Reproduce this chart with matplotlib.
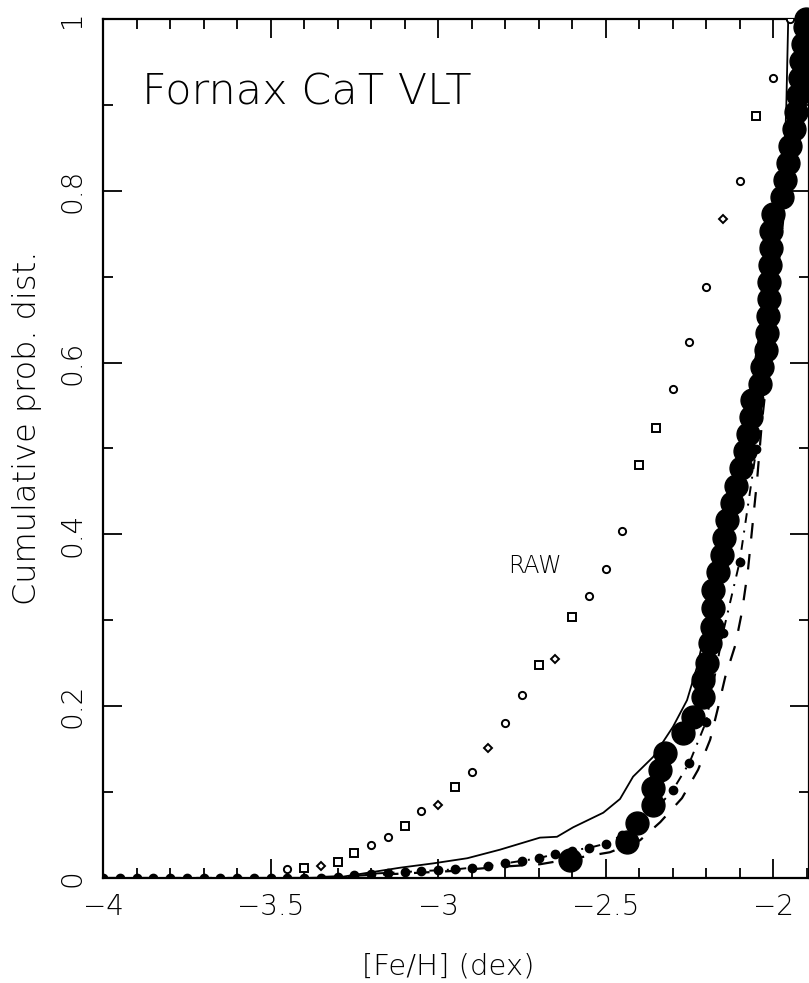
import matplotlib
matplotlib.use("Agg")
import matplotlib.pyplot as plt
from matplotlib.ticker import MultipleLocator, FixedLocator, FixedFormatter

plt.rcParams["font.family"] = ["DejaVu Sans"]
TEXT_WEIGHT = 200

# ---- data -------------------------------------------------------------
# Raw (uncorrected) cumulative distribution, sampled every 0.05 dex
raw_feh = [-3.45, -3.40, -3.35, -3.30, -3.25, -3.20, -3.15, -3.10, -3.05, -3.00,
           -2.95, -2.90, -2.85, -2.80, -2.75, -2.70, -2.65, -2.60, -2.55, -2.50,
           -2.45, -2.40, -2.35, -2.30, -2.25, -2.20, -2.15, -2.10, -2.05, -2.00,
           -1.95]
raw_cdf = [0.010, 0.012, 0.014, 0.019, 0.029, 0.038, 0.048, 0.061, 0.078, 0.085,
           0.106, 0.123, 0.151, 0.180, 0.213, 0.248, 0.255, 0.304, 0.328, 0.360,
           0.404, 0.481, 0.524, 0.569, 0.624, 0.688, 0.767, 0.811, 0.887, 0.931,
           1.000]

# Corrected stellar cumulative distribution (large filled points)
star_feh = [-2.606, -2.436, -2.406, -2.358, -2.358, -2.337, -2.322, -2.269, -2.239, -2.209,
            -2.209, -2.197, -2.188, -2.182, -2.179, -2.179, -2.164, -2.152, -2.146, -2.137,
            -2.122, -2.110, -2.096, -2.084, -2.075, -2.066, -2.063, -2.039, -2.033, -2.021,
            -2.018, -2.015, -2.012, -2.012, -2.009, -2.006, -2.006, -2.000, -1.973, -1.964,
            -1.955, -1.949, -1.937, -1.931, -1.925, -1.919, -1.916, -1.910, -1.904, -1.901]
star_cdf = [0.021, 0.042, 0.064, 0.085, 0.105, 0.126, 0.146, 0.169, 0.187, 0.211,
            0.231, 0.250, 0.274, 0.292, 0.314, 0.335, 0.356, 0.376, 0.396, 0.417,
            0.437, 0.456, 0.477, 0.497, 0.517, 0.537, 0.556, 0.575, 0.595, 0.615,
            0.634, 0.654, 0.674, 0.694, 0.714, 0.733, 0.753, 0.773, 0.793, 0.813,
            0.832, 0.852, 0.872, 0.892, 0.912, 0.931, 0.951, 0.971, 0.991, 1.000]

# Model cumulative distribution on a 0.05 dex grid (small filled points)
grid_feh = [-4.00, -3.95, -3.90, -3.85, -3.80, -3.75, -3.70, -3.65, -3.60, -3.55,
            -3.50, -3.45, -3.40, -3.35, -3.30, -3.25, -3.20, -3.15, -3.10, -3.05,
            -3.00, -2.95, -2.90, -2.85, -2.80, -2.75, -2.70, -2.65, -2.60, -2.55,
            -2.50, -2.45, -2.40, -2.35, -2.30, -2.25, -2.20, -2.15, -2.10, -2.05,
            -2.00, -1.95, -1.90]
grid_cdf = [0.000, 0.000, 0.000, 0.000, 0.000, 0.000, 0.000, 0.000, 0.000, 0.000,
            0.000, 0.000, 0.000, 0.000, 0.001, 0.003, 0.005, 0.006, 0.007, 0.008,
            0.009, 0.010, 0.012, 0.014, 0.017, 0.020, 0.023, 0.028, 0.032, 0.035,
            0.040, 0.050, 0.064, 0.080, 0.102, 0.134, 0.182, 0.285, 0.368, 0.500,
            0.660, 0.850, 1.000]

# Model curve A (solid)
solid_feh = [-4.000, -3.412, -3.293, -3.113, -3.015, -2.913, -2.815, -2.696, -2.645, -2.597,
             -2.507, -2.457, -2.418, -2.358, -2.299, -2.257, -2.227, -2.182, -2.152, -2.113,
             -2.075, -2.063, -2.054, -2.024, -1.985, -1.967, -1.961, -1.955]
solid_cdf = [0.000, 0.000, 0.001, 0.012, 0.017, 0.023, 0.033, 0.047, 0.048, 0.059,
             0.076, 0.092, 0.118, 0.141, 0.176, 0.207, 0.246, 0.324, 0.393, 0.463,
             0.533, 0.562, 0.603, 0.673, 0.766, 0.836, 0.894, 1.000]

# Model curve B (dashed)
dash_feh = [-4.000, -3.412, -3.113, -2.964, -2.815, -2.696, -2.576, -2.487, -2.397, -2.337,
            -2.272, -2.224, -2.188, -2.164, -2.143, -2.113, -2.093, -2.075, -2.060, -2.048,
            -2.033, -2.009, -1.979, -1.949, -1.919, -1.901]
dash_cdf = [0.000, 0.000, 0.005, 0.008, 0.013, 0.016, 0.024, 0.030, 0.044, 0.065,
            0.093, 0.126, 0.161, 0.199, 0.234, 0.271, 0.310, 0.359, 0.417, 0.463,
            0.533, 0.615, 0.731, 0.848, 0.952, 1.000]

x_ticks = [-4, -3.5, -3, -2.5, -2]
x_tick_labels = ["\u22124", "\u22123.5", "\u22123", "\u22122.5", "\u22122"]
y_ticks = [0, 0.2, 0.4, 0.6, 0.8, 1]
y_tick_labels = ["0", "0.2", "0.4", "0.6", "0.8", "1"]

# ---- figure -----------------------------------------------------------
W, H = 809, 983
fig = plt.figure(figsize=(W / 100, H / 100), dpi=100)
ax = fig.add_axes([103 / W, (H - 878) / H, 706 / W, 859 / H])
ax.set_xlim(-4, -1.893)
ax.set_ylim(0, 1)

# raw points: a mix of small open symbols
raw_shapes = ["o", "s", "D", "s", "s", "o", "o", "s", "o", "D", "s", "o", "D", "o", "o",
              "s", "D", "s", "o", "o", "o", "s", "s", "o", "o", "o", "D", "o", "s", "o", "o"]
for xv, yv, mk in zip(raw_feh, raw_cdf, raw_shapes):
    ax.plot(xv, yv, marker=mk, ms=4.4 if mk == "D" else 5.2, mfc="white", mec="black",
            mew=1.4, ls="none", zorder=3)

ax.plot(solid_feh, solid_cdf, color="black", lw=1.3, zorder=2)
ax.plot(dash_feh, dash_cdf, color="black", lw=1.6, ls=(0, (7, 7)), zorder=2)
ax.plot(grid_feh, grid_cdf, color="black", lw=1.4, ls=(0, (5, 4, 1, 4)),
        marker="o", ms=6, mfc="black", mec="black", zorder=4)
ax.plot(star_feh, star_cdf, ls="none", marker="o", ms=16.5, mfc="black", mec="black",
        zorder=5, clip_on=False)

ax.text(-3.885, 0.900, "Fornax CaT VLT", fontsize=31, weight=TEXT_WEIGHT,
        color="black", zorder=6)
ax.text(-2.79, 0.355, "RAW", fontsize=17, weight=TEXT_WEIGHT, color="black", zorder=6)

# ---- axes styling -----------------------------------------------------
for sp in ax.spines.values():
    sp.set_linewidth(1.6)
ax.xaxis.set_major_locator(FixedLocator(x_ticks))
ax.xaxis.set_major_formatter(FixedFormatter(x_tick_labels))
ax.xaxis.set_minor_locator(MultipleLocator(0.1))
ax.yaxis.set_major_locator(FixedLocator(y_ticks))
ax.yaxis.set_major_formatter(FixedFormatter(y_tick_labels))
ax.yaxis.set_minor_locator(MultipleLocator(0.1))
ax.tick_params(which="both", direction="in", top=True, right=True, width=1.3)
ax.tick_params(which="major", length=14, labelsize=20)
ax.tick_params(which="minor", length=7)
ax.tick_params(axis="x", which="major", pad=11)
ax.tick_params(axis="y", which="major", pad=12)
for lab in ax.get_yticklabels() + ax.get_xticklabels():
    lab.set_fontweight(TEXT_WEIGHT)
for lab in ax.get_yticklabels():
    lab.set_rotation(90)
    lab.set_va("center")

fig.text(448 / W, 1 - 967 / H, "[Fe/H] (dex)", fontsize=21, weight=TEXT_WEIGHT,
         ha="center", va="center")
fig.text(27 / W, 1 - 428 / H, "Cumulative prob. dist.", fontsize=23, weight=TEXT_WEIGHT,
         rotation=90, ha="center", va="center")

fig.savefig("out.png", dpi=100)
